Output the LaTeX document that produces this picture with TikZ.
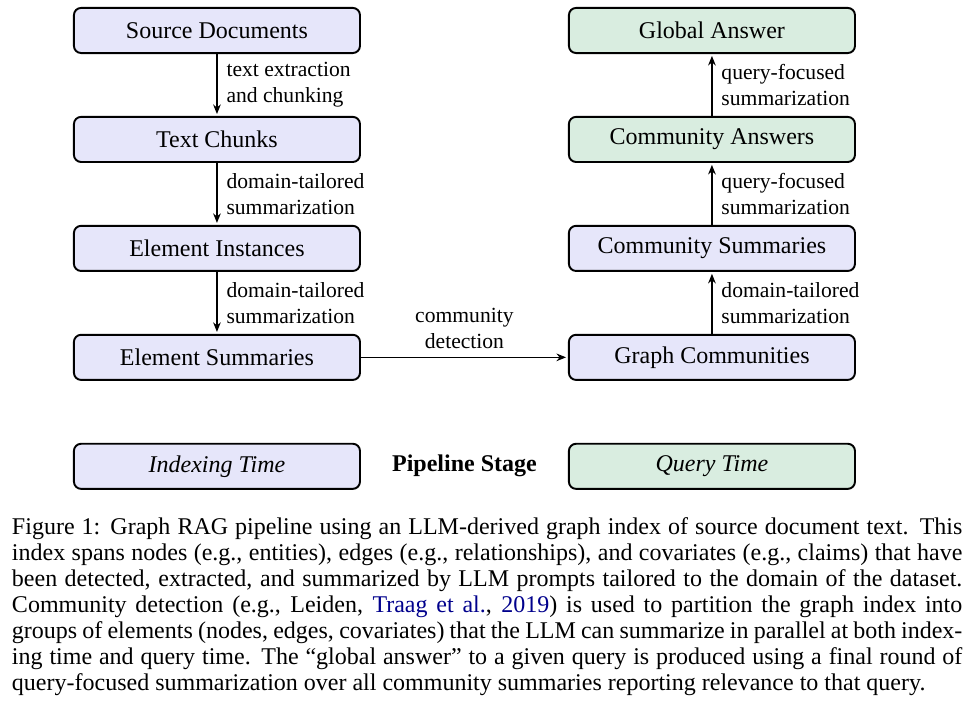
\documentclass[tikz,border=0pt]{standalone}
\usepackage{fontspec}
\setmainfont{Liberation Serif}
\usetikzlibrary{positioning,calc,arrows.meta}

\definecolor{indexfill}{RGB}{230,230,250}
\definecolor{queryfill}{RGB}{217,237,224}
\definecolor{citeblue}{RGB}{0,0,140}

\begin{document}
\begin{tikzpicture}[
    x=1pt, y=1pt,
    stagebox/.style={
      draw=black,
      line width=0.8pt,
      rounded corners=3pt,
      fill=indexfill,
      minimum width=119.2pt,
      minimum height=18.8pt,
      inner sep=0pt
    },
    answerbox/.style={stagebox, fill=queryfill},
    flow/.style={-{Stealth[length=4pt,width=3.2pt]}, line width=0.5pt, shorten >=0.8pt},
    steplabel/.style={font=\small, align=left, right, xshift=0.4pt},
    node distance=25.8pt and 86.25pt
  ]
  \useasboundingbox (0,0) rectangle (404.6,-292.5);

  \begin{scope}
    \node[stagebox] (src) at (90.4,-12.7) {Source Documents};
    \node[stagebox, below=of src] (chunks) {Text Chunks};
    \node[stagebox, below=of chunks] (inst) {Element Instances};
    \node[stagebox, below=of inst] (summ) {Element Summaries};
    \node[stagebox, below=of summ] (idx) {\itshape Indexing Time};

    \draw[flow] (src) -- (chunks)
      node[steplabel, midway] {text extraction\\and chunking};
    \draw[flow] (chunks) -- (inst)
      node[steplabel, midway] {domain-tailored\\summarization};
    \draw[flow] (inst) -- (summ)
      node[steplabel, midway] {domain-tailored\\summarization};
  \end{scope}

  \begin{scope}
    \node[stagebox, right=of summ] (gcomm) {Graph Communities};
    \node[stagebox, above=of gcomm] (csumm) {Community Summaries};
    \node[answerbox, above=of csumm] (cans) {Community Answers};
    \node[answerbox, above=of cans] (gans) {Global Answer};
    \node[answerbox, below=of gcomm] (qry) {\itshape Query Time};

    \draw[flow] (gcomm) -- (csumm)
      node[steplabel, midway] {domain-tailored\\summarization};
    \draw[flow] (csumm) -- (cans)
      node[steplabel, midway] {query-focused\\summarization};
    \draw[flow] (cans) -- (gans)
      node[steplabel, midway] {query-focused\\summarization};
  \end{scope}

  \draw[flow] (summ) -- (gcomm)
    node[midway, above, font=\small, align=center] {community\\detection};

  \node[font=\bfseries] (stage) at ($(idx.east)!0.5!(qry.west)$) {Pipeline Stage};

  \node[anchor=north west, inner sep=0pt, text width=396pt, align=justify,
        font={\fontsize{10}{10.83}\selectfont}] (caption) at (4.8,-215.6)
    {Figure 1: Graph RAG pipeline using an LLM-derived graph index of source document text. This\linebreak
     index spans nodes (e.g., entities), edges (e.g., relationships), and covariates (e.g., claims) that have\linebreak
     been detected, extracted, and summarized by LLM prompts tailored to the domain of the dataset.\linebreak
     Community detection (e.g., Leiden, \textcolor{citeblue}{Traag et al.}, \textcolor{citeblue}{2019}) is used to partition the graph index into\linebreak
     groups of elements (nodes, edges, covariates) that the LLM can summarize in parallel at both index-\linebreak
     ing time and query time. The ``global answer'' to a given query is produced using a final round of\linebreak
     query-focused summarization over all community summaries reporting relevance to that query.};
\end{tikzpicture}
\end{document}
